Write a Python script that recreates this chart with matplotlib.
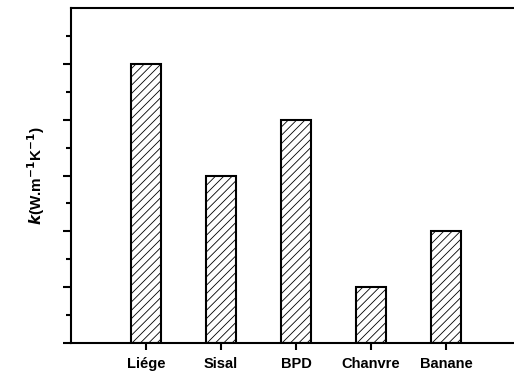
import matplotlib.pyplot as plt

categories = ['Liége', 'Sisal', 'BPD', 'Chanvre', 'Banane']
k_values = [5, 3, 4, 1, 2]

plt.rcParams['font.family'] = ['Liberation Sans', 'DejaVu Sans']
plt.rcParams['hatch.linewidth'] = 0.6

fig = plt.figure(figsize=(5.14, 3.74), dpi=100)
ax = fig.add_axes([71 / 514, 31 / 374, 450 / 514, 335 / 374])

x = list(range(1, len(categories) + 1))
ax.bar(x, k_values, width=0.4, facecolor='white', edgecolor='black',
       linewidth=1.5, hatch='////')

ax.set_xlim(0, 6)
ax.set_ylim(0, 6)
ax.set_xticks(x)
ax.set_xticklabels(categories, fontsize=10.5, fontweight='bold')
ax.set_yticks([0, 1, 2, 3, 4, 5])
ax.set_yticks([0.5, 1.5, 2.5, 3.5, 4.5, 5.5], minor=True)
ax.set_yticklabels([])
ax.tick_params(axis='y', which='major', direction='out', length=6, width=1.5)
ax.tick_params(axis='y', which='minor', direction='out', length=3.5, width=1.5)
ax.tick_params(axis='x', direction='out', length=5, width=1.5, pad=5)

for side in ['left', 'bottom', 'top']:
    ax.spines[side].set_linewidth(1.5)
ax.spines['right'].set_visible(False)

ax.set_ylabel(r'$\boldsymbol{k}$(W.m$^{\mathbf{-1}}$K$^{\mathbf{-1}}$)',
              fontsize=11, fontweight='bold', labelpad=8)

fig.savefig('out.png', dpi=100)
